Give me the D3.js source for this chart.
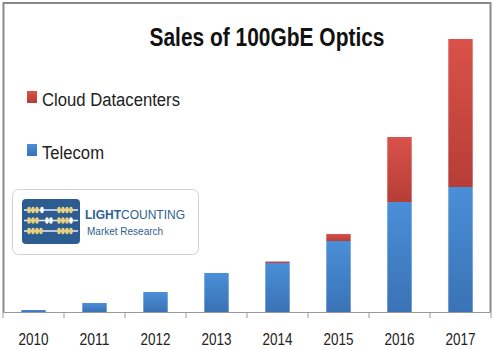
<!DOCTYPE html>
<html>
<head>
<meta charset="utf-8">
<script src="https://cdn.jsdelivr.net/npm/d3@7"></script>
<style>
  body { margin: 0; background: #fff; }
  text { font-family: "Liberation Sans Narrow", "Liberation Sans", sans-serif; }
</style>
</head>
<body>
<div id="chart"></div>
<script>
const width = 495
const height = 350

// values (arbitrary units, no y axis in the source)
const years = ['2010', '2011', '2012', '2013', '2014', '2015', '2016', '2017']
const telecom = [2, 9, 20, 39, 49, 71, 110, 125]
const cloud = [0, 0, 0, 0, 1.5, 7, 65, 148]
const seriesNames = ['Cloud Datacenters', 'Telecom']

const plot = { left: 3, right: 491, top: 3, bottom: 312 }

const svg = d3.select('#chart').append('svg')
  .attr('width', width)
  .attr('height', height)

const defs = svg.append('defs')
const gradRed = defs.append('linearGradient').attr('id', 'gRed')
  .attr('x1', 0).attr('y1', 0).attr('x2', 0).attr('y2', 1)
gradRed.append('stop').attr('offset', 0).attr('stop-color', '#da5249')
gradRed.append('stop').attr('offset', 1).attr('stop-color', '#b63d37')
const gradBlue = defs.append('linearGradient').attr('id', 'gBlue')
  .attr('x1', 0).attr('y1', 0).attr('x2', 0).attr('y2', 1)
gradBlue.append('stop').attr('offset', 0).attr('stop-color', '#4a8fd8')
gradBlue.append('stop').attr('offset', 1).attr('stop-color', '#3a72b5')

const x = d3.scaleBand()
  .domain(years)
  .range([plot.left, plot.right])
  .paddingInner(0.6)
  .paddingOuter(0.3)

const y = d3.scaleLinear()
  .domain([0, 280])
  .range([plot.bottom, 32])

const rows = years.map((yr, i) => ({ year: yr, telecom: telecom[i], cloud: cloud[i] }))
const stacked = d3.stack().keys(['telecom', 'cloud'])(rows)
const fills = { telecom: 'url(#gBlue)', cloud: 'url(#gRed)' }

// frame
svg.append('path')
  .attr('d', `M${plot.left + 0.5},${plot.bottom} V${plot.top} H${plot.right - 0.5} V${plot.bottom}`)
  .attr('fill', 'none')
  .attr('stroke', '#8a8a8a')
  .attr('stroke-width', 2)

// bars
svg.append('g')
  .selectAll('g')
  .data(stacked).enter()
  .append('g')
  .attr('fill', d => fills[d.key])
  .selectAll('rect')
  .data(d => d).enter()
  .append('rect')
  .attr('x', d => x(d.data.year))
  .attr('width', x.bandwidth())
  .attr('y', d => y(d[1]))
  .attr('height', d => y(d[0]) - y(d[1]))

// x axis: ticks between categories
const step = x.step()
const boundaries = d3.range(years.length + 1).map(i => plot.left + i * step)
const axis = svg.append('g')
axis.append('line')
  .attr('x1', plot.left).attr('x2', plot.right)
  .attr('y1', plot.bottom + 0.5).attr('y2', plot.bottom + 0.5)
  .attr('stroke', '#9a9a9a')
axis.selectAll('.tick')
  .data(boundaries).enter()
  .append('line')
  .attr('x1', d => d).attr('x2', d => d)
  .attr('y1', plot.bottom).attr('y2', plot.bottom + 6)
  .attr('stroke', '#9a9a9a')
axis.selectAll('.lbl')
  .data(years).enter()
  .append('text')
  .attr('x', d => x(d) + x.bandwidth() / 2)
  .attr('y', 345)
  .attr('text-anchor', 'middle')
  .attr('font-size', 17)
  .attr('fill', '#222')
  .attr('textLength', 30)
  .attr('lengthAdjust', 'spacingAndGlyphs')
  .text(d => d)

// title
svg.append('text')
  .attr('x', 267)
  .attr('y', 46)
  .attr('text-anchor', 'middle')
  .attr('font-size', 26)
  .attr('font-weight', 'bold')
  .attr('fill', '#111')
  .attr('textLength', 235)
  .attr('lengthAdjust', 'spacingAndGlyphs')
  .text('Sales of 100GbE Optics')

// legend
const legend = svg.append('g')
const legendColors = ['url(#gRed)', 'url(#gBlue)']
const legendY = [97, 150]
const legendWidths = [138, 62]
seriesNames.forEach((name, i) => {
  legend.append('rect')
    .attr('x', 27).attr('y', legendY[i] - 6)
    .attr('width', 10).attr('height', 12)
    .attr('fill', legendColors[i])
  legend.append('text')
    .attr('x', 42).attr('y', legendY[i] + 9)
    .attr('font-size', 18)
    .attr('fill', '#222')
    .attr('textLength', legendWidths[i])
    .attr('lengthAdjust', 'spacingAndGlyphs')
    .text(name)
})

// logo
const logo = svg.append('g')
logo.append('rect')
  .attr('x', 12.5).attr('y', 189.5).attr('width', 186).attr('height', 65)
  .attr('rx', 6)
  .attr('fill', '#fff')
  .attr('stroke', '#cfd3d8')
logo.append('rect')
  .attr('x', 22).attr('y', 199).attr('width', 58).attr('height', 45)
  .attr('rx', 4)
  .attr('fill', '#2c5c90')
const abacusRows = [210, 220.5, 231]
const beads = [
  [[29, 'y'], [33, 'y'], [37, 'y'], [42, 'w'], [59, 'y'], [63, 'y'], [67, 'y'], [71, 'y']],
  [[29, 'y'], [33, 'y'], [37, 'y'], [47, 'w'], [51, 'w'], [59, 'y'], [63, 'y'], [67, 'y'], [71, 'w']],
  [[29, 'y'], [33, 'y'], [37, 'y'], [41, 'y'], [59, 'y'], [63, 'y'], [67, 'y'], [71, 'y']]
]
abacusRows.forEach((ry, i) => {
  logo.append('line')
    .attr('x1', 24).attr('x2', 78).attr('y1', ry).attr('y2', ry)
    .attr('stroke', '#e9eef5').attr('stroke-width', 1.5)
  logo.selectAll(null)
    .data(beads[i]).enter()
    .append('ellipse')
    .attr('cx', d => d[0]).attr('cy', ry)
    .attr('rx', 1.8).attr('ry', 3.2)
    .attr('fill', d => d[1] === 'y' ? '#ead27c' : '#ffffff')
})
const lc = logo.append('text')
  .attr('x', 85).attr('y', 219)
  .attr('font-size', 12)
  .attr('fill', '#2d5f92')
lc.append('tspan').attr('font-weight', 'bold').text('LIGHT')
lc.append('tspan').text('COUNTING')
logo.append('text')
  .attr('x', 87).attr('y', 235)
  .attr('font-size', 10)
  .attr('fill', '#2d5f92')
  .text('Market Research')
</script>
</body>
</html>
